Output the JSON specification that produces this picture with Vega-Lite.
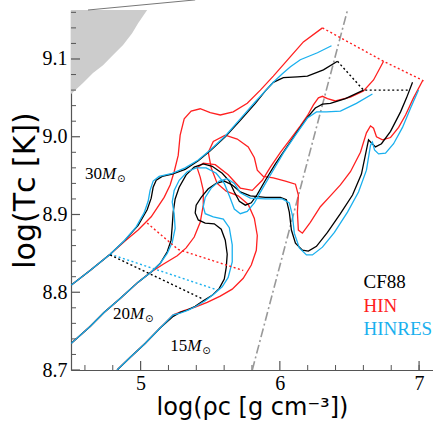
{
"$schema": "https://vega.github.io/schema/vega-lite/v6.json",
"width": 362, "height": 360,
"autosize": {"type": "none"},
"padding": {"left": 71, "top": 10, "right": 0, "bottom": 51},
"config": {"view": {"stroke": null}, "axis": {"grid": false, "labelOverlap": false}},
"datasets": {
"gray": [{"x":4.5,"y":9.055},{"x":4.507,"y":9.056},{"x":4.586,"y":9.069},{"x":4.658,"y":9.082},{"x":4.730,"y":9.092},{"x":4.802,"y":9.105},{"x":4.874,"y":9.118},{"x":4.939,"y":9.133},{"x":4.982,"y":9.146},{"x":5.047,"y":9.163}],
"topline": [{"x":4.622,"y":9.163},{"x":5.392,"y":9.176}],
"dashdot": [{"x":5.802,"y":8.70},{"x":6.486,"y":9.163}],
"xmaj": [{"x":5},{"x":6},{"x":7}],
"xmin": [{"x":4.6},{"x":4.8},{"x":5.2},{"x":5.4},{"x":5.6},{"x":5.8},{"x":6.2},{"x":6.4},{"x":6.6},{"x":6.8},{"x":7.0}],
"ymaj": [{"y":8.7},{"y":8.8},{"y":8.9},{"y":9.0},{"y":9.1}],
"ymin": [{"y":8.72},{"y":8.74},{"y":8.76},{"y":8.78},{"y":8.82},{"y":8.84},{"y":8.86},{"y":8.88},{"y":8.92},{"y":8.94},{"y":8.96},{"y":8.98},{"y":9.02},{"y":9.04},{"y":9.06},{"y":9.08},{"y":9.12},{"y":9.14},{"y":9.16}],
"tracks": [
{"t":"r30","m":"HIN","i":0,"x":4.500,"y":8.809},{"t":"r30","m":"HIN","i":1,"x":4.637,"y":8.828},{"t":"r30","m":"HIN","i":2,"x":4.781,"y":8.849},{"t":"r30","m":"HIN","i":3,"x":4.888,"y":8.866},{"t":"r30","m":"HIN","i":4,"x":4.982,"y":8.880},{"t":"r30","m":"HIN","i":5,"x":5.076,"y":8.897},{"t":"r30","m":"HIN","i":6,"x":5.169,"y":8.922},{"t":"r30","m":"HIN","i":7,"x":5.212,"y":8.938},{"t":"r30","m":"HIN","i":8,"x":5.241,"y":8.955},{"t":"r30","m":"HIN","i":9,"x":5.270,"y":8.976},{"t":"r30","m":"HIN","i":10,"x":5.284,"y":9.002},{"t":"r30","m":"HIN","i":11,"x":5.313,"y":9.023},{"t":"r30","m":"HIN","i":12,"x":5.363,"y":9.033},{"t":"r30","m":"HIN","i":13,"x":5.428,"y":9.036},{"t":"r30","m":"HIN","i":14,"x":5.500,"y":9.031},{"t":"r30","m":"HIN","i":15,"x":5.572,"y":9.028},{"t":"r30","m":"HIN","i":16,"x":5.665,"y":9.032},{"t":"r30","m":"HIN","i":17,"x":5.766,"y":9.043},{"t":"r30","m":"HIN","i":18,"x":5.860,"y":9.060},{"t":"r30","m":"HIN","i":19,"x":5.953,"y":9.078},{"t":"r30","m":"HIN","i":20,"x":6.076,"y":9.103},{"t":"r30","m":"HIN","i":21,"x":6.169,"y":9.122},{"t":"r30","m":"HIN","i":22,"x":6.306,"y":9.140},
{"t":"r20","m":"HIN","i":0,"x":4.500,"y":8.734},{"t":"r20","m":"HIN","i":1,"x":4.637,"y":8.756},{"t":"r20","m":"HIN","i":2,"x":4.737,"y":8.774},{"t":"r20","m":"HIN","i":3,"x":4.853,"y":8.792},{"t":"r20","m":"HIN","i":4,"x":4.982,"y":8.813},{"t":"r20","m":"HIN","i":5,"x":5.068,"y":8.825},{"t":"r20","m":"HIN","i":6,"x":5.162,"y":8.836},{"t":"r20","m":"HIN","i":7,"x":5.263,"y":8.847},{"t":"r20","m":"HIN","i":8,"x":5.327,"y":8.857},{"t":"r20","m":"HIN","i":9,"x":5.385,"y":8.871},{"t":"r20","m":"HIN","i":10,"x":5.428,"y":8.890},{"t":"r20","m":"HIN","i":11,"x":5.450,"y":8.912},{"t":"r20","m":"HIN","i":12,"x":5.450,"y":8.931},{"t":"r20","m":"HIN","i":13,"x":5.428,"y":8.948},{"t":"r20","m":"HIN","i":14,"x":5.406,"y":8.960},{"t":"r20","m":"HIN","i":15,"x":5.450,"y":8.966},{"t":"r20","m":"HIN","i":16,"x":5.536,"y":8.964},{"t":"r20","m":"HIN","i":17,"x":5.629,"y":8.951},{"t":"r20","m":"HIN","i":18,"x":5.716,"y":8.934},{"t":"r20","m":"HIN","i":19,"x":5.802,"y":8.931},{"t":"r20","m":"HIN","i":20,"x":5.874,"y":8.944},{"t":"r20","m":"HIN","i":21,"x":5.932,"y":8.961},{"t":"r20","m":"HIN","i":22,"x":6.004,"y":8.980},{"t":"r20","m":"HIN","i":23,"x":6.076,"y":8.997},{"t":"r20","m":"HIN","i":24,"x":6.147,"y":9.014},{"t":"r20","m":"HIN","i":25,"x":6.198,"y":9.027},{"t":"r20","m":"HIN","i":26,"x":6.241,"y":9.041},{"t":"r20","m":"HIN","i":27,"x":6.277,"y":9.050},{"t":"r20","m":"HIN","i":28,"x":6.306,"y":9.052},{"t":"r20","m":"HIN","i":29,"x":6.342,"y":9.049},{"t":"r20","m":"HIN","i":30,"x":6.399,"y":9.046},{"t":"r20","m":"HIN","i":31,"x":6.507,"y":9.051},{"t":"r20","m":"HIN","i":32,"x":6.601,"y":9.059},{"t":"r20","m":"HIN","i":33,"x":6.673,"y":9.073},{"t":"r20","m":"HIN","i":34,"x":6.745,"y":9.097},
{"t":"r15","m":"HIN","i":0,"x":4.831,"y":8.700},{"t":"r15","m":"HIN","i":1,"x":4.924,"y":8.716},{"t":"r15","m":"HIN","i":2,"x":5.032,"y":8.734},{"t":"r15","m":"HIN","i":3,"x":5.140,"y":8.754},{"t":"r15","m":"HIN","i":4,"x":5.234,"y":8.771},{"t":"r15","m":"HIN","i":5,"x":5.306,"y":8.776},{"t":"r15","m":"HIN","i":6,"x":5.392,"y":8.781},{"t":"r15","m":"HIN","i":7,"x":5.478,"y":8.787},{"t":"r15","m":"HIN","i":8,"x":5.572,"y":8.795},{"t":"r15","m":"HIN","i":9,"x":5.658,"y":8.804},{"t":"r15","m":"HIN","i":10,"x":5.737,"y":8.818},{"t":"r15","m":"HIN","i":11,"x":5.795,"y":8.835},{"t":"r15","m":"HIN","i":12,"x":5.831,"y":8.854},{"t":"r15","m":"HIN","i":13,"x":5.838,"y":8.873},{"t":"r15","m":"HIN","i":14,"x":5.817,"y":8.895},{"t":"r15","m":"HIN","i":15,"x":5.773,"y":8.913},{"t":"r15","m":"HIN","i":16,"x":5.701,"y":8.924},{"t":"r15","m":"HIN","i":17,"x":5.615,"y":8.930},{"t":"r15","m":"HIN","i":18,"x":5.550,"y":8.940},{"t":"r15","m":"HIN","i":19,"x":5.507,"y":8.960},{"t":"r15","m":"HIN","i":20,"x":5.486,"y":8.980},{"t":"r15","m":"HIN","i":21,"x":5.522,"y":8.994},{"t":"r15","m":"HIN","i":22,"x":5.608,"y":9.002},{"t":"r15","m":"HIN","i":23,"x":5.694,"y":8.997},{"t":"r15","m":"HIN","i":24,"x":5.773,"y":8.987},{"t":"r15","m":"HIN","i":25,"x":5.817,"y":8.973},{"t":"r15","m":"HIN","i":26,"x":5.838,"y":8.957},{"t":"r15","m":"HIN","i":27,"x":5.881,"y":8.949},{"t":"r15","m":"HIN","i":28,"x":5.953,"y":8.947},{"t":"r15","m":"HIN","i":29,"x":6.040,"y":8.943},{"t":"r15","m":"HIN","i":30,"x":6.112,"y":8.939},{"t":"r15","m":"HIN","i":31,"x":6.133,"y":8.925},{"t":"r15","m":"HIN","i":32,"x":6.126,"y":8.903},{"t":"r15","m":"HIN","i":33,"x":6.133,"y":8.880},{"t":"r15","m":"HIN","i":34,"x":6.162,"y":8.876},{"t":"r15","m":"HIN","i":35,"x":6.219,"y":8.890},{"t":"r15","m":"HIN","i":36,"x":6.291,"y":8.910},{"t":"r15","m":"HIN","i":37,"x":6.363,"y":8.924},{"t":"r15","m":"HIN","i":38,"x":6.435,"y":8.938},{"t":"r15","m":"HIN","i":39,"x":6.507,"y":8.955},{"t":"r15","m":"HIN","i":40,"x":6.579,"y":8.980},{"t":"r15","m":"HIN","i":41,"x":6.622,"y":9.005},{"t":"r15","m":"HIN","i":42,"x":6.651,"y":9.014},{"t":"r15","m":"HIN","i":43,"x":6.673,"y":9.011},{"t":"r15","m":"HIN","i":44,"x":6.694,"y":9.000},{"t":"r15","m":"HIN","i":45,"x":6.737,"y":8.996},{"t":"r15","m":"HIN","i":46,"x":6.795,"y":8.999},{"t":"r15","m":"HIN","i":47,"x":6.853,"y":9.012},{"t":"r15","m":"HIN","i":48,"x":6.903,"y":9.028},{"t":"r15","m":"HIN","i":49,"x":6.960,"y":9.050},{"t":"r15","m":"HIN","i":50,"x":7.025,"y":9.072},
{"t":"k30","m":"CF88","i":0,"x":4.500,"y":8.809},{"t":"k30","m":"CF88","i":1,"x":4.637,"y":8.828},{"t":"k30","m":"CF88","i":2,"x":4.781,"y":8.849},{"t":"k30","m":"CF88","i":3,"x":4.888,"y":8.867},{"t":"k30","m":"CF88","i":4,"x":4.982,"y":8.886},{"t":"k30","m":"CF88","i":5,"x":5.047,"y":8.906},{"t":"k30","m":"CF88","i":6,"x":5.076,"y":8.921},{"t":"k30","m":"CF88","i":7,"x":5.090,"y":8.935},{"t":"k30","m":"CF88","i":8,"x":5.112,"y":8.944},{"t":"k30","m":"CF88","i":9,"x":5.155,"y":8.949},{"t":"k30","m":"CF88","i":10,"x":5.227,"y":8.952},{"t":"k30","m":"CF88","i":11,"x":5.320,"y":8.958},{"t":"k30","m":"CF88","i":12,"x":5.414,"y":8.969},{"t":"k30","m":"CF88","i":13,"x":5.500,"y":8.982},{"t":"k30","m":"CF88","i":14,"x":5.608,"y":9.000},{"t":"k30","m":"CF88","i":15,"x":5.716,"y":9.021},{"t":"k30","m":"CF88","i":16,"x":5.824,"y":9.043},{"t":"k30","m":"CF88","i":17,"x":5.896,"y":9.059},{"t":"k30","m":"CF88","i":18,"x":5.953,"y":9.070},{"t":"k30","m":"CF88","i":19,"x":6.025,"y":9.076},{"t":"k30","m":"CF88","i":20,"x":6.126,"y":9.077},{"t":"k30","m":"CF88","i":21,"x":6.198,"y":9.078},{"t":"k30","m":"CF88","i":22,"x":6.313,"y":9.086},{"t":"k30","m":"CF88","i":23,"x":6.414,"y":9.097},
{"t":"k20","m":"CF88","i":0,"x":4.500,"y":8.734},{"t":"k20","m":"CF88","i":1,"x":4.637,"y":8.756},{"t":"k20","m":"CF88","i":2,"x":4.737,"y":8.774},{"t":"k20","m":"CF88","i":3,"x":4.853,"y":8.792},{"t":"k20","m":"CF88","i":4,"x":4.982,"y":8.813},{"t":"k20","m":"CF88","i":5,"x":5.076,"y":8.826},{"t":"k20","m":"CF88","i":6,"x":5.140,"y":8.837},{"t":"k20","m":"CF88","i":7,"x":5.191,"y":8.852},{"t":"k20","m":"CF88","i":8,"x":5.219,"y":8.867},{"t":"k20","m":"CF88","i":9,"x":5.227,"y":8.885},{"t":"k20","m":"CF88","i":10,"x":5.234,"y":8.903},{"t":"k20","m":"CF88","i":11,"x":5.248,"y":8.920},{"t":"k20","m":"CF88","i":12,"x":5.277,"y":8.935},{"t":"k20","m":"CF88","i":13,"x":5.327,"y":8.951},{"t":"k20","m":"CF88","i":14,"x":5.385,"y":8.961},{"t":"k20","m":"CF88","i":15,"x":5.450,"y":8.965},{"t":"k20","m":"CF88","i":16,"x":5.514,"y":8.962},{"t":"k20","m":"CF88","i":17,"x":5.586,"y":8.953},{"t":"k20","m":"CF88","i":18,"x":5.637,"y":8.943},{"t":"k20","m":"CF88","i":19,"x":5.673,"y":8.929},{"t":"k20","m":"CF88","i":20,"x":5.709,"y":8.917},{"t":"k20","m":"CF88","i":21,"x":5.752,"y":8.912},{"t":"k20","m":"CF88","i":22,"x":5.795,"y":8.915},{"t":"k20","m":"CF88","i":23,"x":5.838,"y":8.926},{"t":"k20","m":"CF88","i":24,"x":5.896,"y":8.944},{"t":"k20","m":"CF88","i":25,"x":5.968,"y":8.965},{"t":"k20","m":"CF88","i":26,"x":6.040,"y":8.984},{"t":"k20","m":"CF88","i":27,"x":6.119,"y":9.005},{"t":"k20","m":"CF88","i":28,"x":6.198,"y":9.025},{"t":"k20","m":"CF88","i":29,"x":6.255,"y":9.037},{"t":"k20","m":"CF88","i":30,"x":6.306,"y":9.042},{"t":"k20","m":"CF88","i":31,"x":6.363,"y":9.043},{"t":"k20","m":"CF88","i":32,"x":6.471,"y":9.049},{"t":"k20","m":"CF88","i":33,"x":6.601,"y":9.060},
{"t":"k15","m":"CF88","i":0,"x":4.831,"y":8.700},{"t":"k15","m":"CF88","i":1,"x":4.924,"y":8.716},{"t":"k15","m":"CF88","i":2,"x":5.032,"y":8.734},{"t":"k15","m":"CF88","i":3,"x":5.140,"y":8.754},{"t":"k15","m":"CF88","i":4,"x":5.234,"y":8.769},{"t":"k15","m":"CF88","i":5,"x":5.284,"y":8.774},{"t":"k15","m":"CF88","i":6,"x":5.335,"y":8.777},{"t":"k15","m":"CF88","i":7,"x":5.392,"y":8.782},{"t":"k15","m":"CF88","i":8,"x":5.450,"y":8.789},{"t":"k15","m":"CF88","i":9,"x":5.514,"y":8.796},{"t":"k15","m":"CF88","i":10,"x":5.565,"y":8.805},{"t":"k15","m":"CF88","i":11,"x":5.601,"y":8.817},{"t":"k15","m":"CF88","i":12,"x":5.615,"y":8.832},{"t":"k15","m":"CF88","i":13,"x":5.622,"y":8.849},{"t":"k15","m":"CF88","i":14,"x":5.608,"y":8.867},{"t":"k15","m":"CF88","i":15,"x":5.579,"y":8.881},{"t":"k15","m":"CF88","i":16,"x":5.529,"y":8.888},{"t":"k15","m":"CF88","i":17,"x":5.464,"y":8.889},{"t":"k15","m":"CF88","i":18,"x":5.414,"y":8.893},{"t":"k15","m":"CF88","i":19,"x":5.392,"y":8.902},{"t":"k15","m":"CF88","i":20,"x":5.399,"y":8.912},{"t":"k15","m":"CF88","i":21,"x":5.435,"y":8.922},{"t":"k15","m":"CF88","i":22,"x":5.486,"y":8.933},{"t":"k15","m":"CF88","i":23,"x":5.543,"y":8.940},{"t":"k15","m":"CF88","i":24,"x":5.601,"y":8.943},{"t":"k15","m":"CF88","i":25,"x":5.658,"y":8.938},{"t":"k15","m":"CF88","i":26,"x":5.716,"y":8.929},{"t":"k15","m":"CF88","i":27,"x":5.788,"y":8.924},{"t":"k15","m":"CF88","i":28,"x":5.896,"y":8.922},{"t":"k15","m":"CF88","i":29,"x":6.004,"y":8.922},{"t":"k15","m":"CF88","i":30,"x":6.047,"y":8.919},{"t":"k15","m":"CF88","i":31,"x":6.068,"y":8.903},{"t":"k15","m":"CF88","i":32,"x":6.083,"y":8.880},{"t":"k15","m":"CF88","i":33,"x":6.112,"y":8.863},{"t":"k15","m":"CF88","i":34,"x":6.162,"y":8.854},{"t":"k15","m":"CF88","i":35,"x":6.205,"y":8.853},{"t":"k15","m":"CF88","i":36,"x":6.263,"y":8.859},{"t":"k15","m":"CF88","i":37,"x":6.342,"y":8.877},{"t":"k15","m":"CF88","i":38,"x":6.435,"y":8.901},{"t":"k15","m":"CF88","i":39,"x":6.522,"y":8.925},{"t":"k15","m":"CF88","i":40,"x":6.586,"y":8.952},{"t":"k15","m":"CF88","i":41,"x":6.622,"y":8.983},{"t":"k15","m":"CF88","i":42,"x":6.637,"y":8.996},{"t":"k15","m":"CF88","i":43,"x":6.658,"y":8.992},{"t":"k15","m":"CF88","i":44,"x":6.687,"y":8.987},{"t":"k15","m":"CF88","i":45,"x":6.730,"y":8.991},{"t":"k15","m":"CF88","i":46,"x":6.795,"y":9.007},{"t":"k15","m":"CF88","i":47,"x":6.867,"y":9.032},{"t":"k15","m":"CF88","i":48,"x":6.910,"y":9.050},{"t":"k15","m":"CF88","i":49,"x":6.953,"y":9.070},
{"t":"c30","m":"HINRES","i":0,"x":4.500,"y":8.809},{"t":"c30","m":"HINRES","i":1,"x":4.637,"y":8.828},{"t":"c30","m":"HINRES","i":2,"x":4.781,"y":8.849},{"t":"c30","m":"HINRES","i":3,"x":4.881,"y":8.866},{"t":"c30","m":"HINRES","i":4,"x":4.968,"y":8.884},{"t":"c30","m":"HINRES","i":5,"x":5.025,"y":8.902},{"t":"c30","m":"HINRES","i":6,"x":5.054,"y":8.917},{"t":"c30","m":"HINRES","i":7,"x":5.068,"y":8.931},{"t":"c30","m":"HINRES","i":8,"x":5.090,"y":8.943},{"t":"c30","m":"HINRES","i":9,"x":5.133,"y":8.949},{"t":"c30","m":"HINRES","i":10,"x":5.227,"y":8.953},{"t":"c30","m":"HINRES","i":11,"x":5.320,"y":8.960},{"t":"c30","m":"HINRES","i":12,"x":5.414,"y":8.970},{"t":"c30","m":"HINRES","i":13,"x":5.500,"y":8.983},{"t":"c30","m":"HINRES","i":14,"x":5.608,"y":9.001},{"t":"c30","m":"HINRES","i":15,"x":5.716,"y":9.023},{"t":"c30","m":"HINRES","i":16,"x":5.824,"y":9.045},{"t":"c30","m":"HINRES","i":17,"x":5.896,"y":9.059},{"t":"c30","m":"HINRES","i":18,"x":5.953,"y":9.070},{"t":"c30","m":"HINRES","i":19,"x":6.018,"y":9.081},{"t":"c30","m":"HINRES","i":20,"x":6.076,"y":9.090},{"t":"c30","m":"HINRES","i":21,"x":6.147,"y":9.099},{"t":"c30","m":"HINRES","i":22,"x":6.270,"y":9.108},{"t":"c30","m":"HINRES","i":23,"x":6.371,"y":9.117},
{"t":"c20","m":"HINRES","i":0,"x":4.500,"y":8.734},{"t":"c20","m":"HINRES","i":1,"x":4.637,"y":8.756},{"t":"c20","m":"HINRES","i":2,"x":4.737,"y":8.774},{"t":"c20","m":"HINRES","i":3,"x":4.853,"y":8.792},{"t":"c20","m":"HINRES","i":4,"x":4.982,"y":8.813},{"t":"c20","m":"HINRES","i":5,"x":5.076,"y":8.826},{"t":"c20","m":"HINRES","i":6,"x":5.140,"y":8.837},{"t":"c20","m":"HINRES","i":7,"x":5.191,"y":8.850},{"t":"c20","m":"HINRES","i":8,"x":5.227,"y":8.864},{"t":"c20","m":"HINRES","i":9,"x":5.248,"y":8.882},{"t":"c20","m":"HINRES","i":10,"x":5.241,"y":8.901},{"t":"c20","m":"HINRES","i":11,"x":5.227,"y":8.916},{"t":"c20","m":"HINRES","i":12,"x":5.241,"y":8.931},{"t":"c20","m":"HINRES","i":13,"x":5.277,"y":8.944},{"t":"c20","m":"HINRES","i":14,"x":5.335,"y":8.955},{"t":"c20","m":"HINRES","i":15,"x":5.399,"y":8.960},{"t":"c20","m":"HINRES","i":16,"x":5.471,"y":8.960},{"t":"c20","m":"HINRES","i":17,"x":5.543,"y":8.953},{"t":"c20","m":"HINRES","i":18,"x":5.601,"y":8.940},{"t":"c20","m":"HINRES","i":19,"x":5.637,"y":8.924},{"t":"c20","m":"HINRES","i":20,"x":5.673,"y":8.907},{"t":"c20","m":"HINRES","i":21,"x":5.716,"y":8.901},{"t":"c20","m":"HINRES","i":22,"x":5.766,"y":8.904},{"t":"c20","m":"HINRES","i":23,"x":5.817,"y":8.915},{"t":"c20","m":"HINRES","i":24,"x":5.874,"y":8.933},{"t":"c20","m":"HINRES","i":25,"x":5.946,"y":8.955},{"t":"c20","m":"HINRES","i":26,"x":6.025,"y":8.979},{"t":"c20","m":"HINRES","i":27,"x":6.112,"y":9.002},{"t":"c20","m":"HINRES","i":28,"x":6.198,"y":9.024},{"t":"c20","m":"HINRES","i":29,"x":6.263,"y":9.032},{"t":"c20","m":"HINRES","i":30,"x":6.335,"y":9.032},{"t":"c20","m":"HINRES","i":31,"x":6.435,"y":9.033},{"t":"c20","m":"HINRES","i":32,"x":6.550,"y":9.043},{"t":"c20","m":"HINRES","i":33,"x":6.665,"y":9.055},
{"t":"c15","m":"HINRES","i":0,"x":4.831,"y":8.700},{"t":"c15","m":"HINRES","i":1,"x":4.924,"y":8.716},{"t":"c15","m":"HINRES","i":2,"x":5.032,"y":8.734},{"t":"c15","m":"HINRES","i":3,"x":5.140,"y":8.754},{"t":"c15","m":"HINRES","i":4,"x":5.234,"y":8.771},{"t":"c15","m":"HINRES","i":5,"x":5.284,"y":8.773},{"t":"c15","m":"HINRES","i":6,"x":5.342,"y":8.777},{"t":"c15","m":"HINRES","i":7,"x":5.399,"y":8.782},{"t":"c15","m":"HINRES","i":8,"x":5.464,"y":8.789},{"t":"c15","m":"HINRES","i":9,"x":5.529,"y":8.798},{"t":"c15","m":"HINRES","i":10,"x":5.586,"y":8.807},{"t":"c15","m":"HINRES","i":11,"x":5.629,"y":8.819},{"t":"c15","m":"HINRES","i":12,"x":5.658,"y":8.839},{"t":"c15","m":"HINRES","i":13,"x":5.658,"y":8.861},{"t":"c15","m":"HINRES","i":14,"x":5.637,"y":8.883},{"t":"c15","m":"HINRES","i":15,"x":5.594,"y":8.894},{"t":"c15","m":"HINRES","i":16,"x":5.522,"y":8.897},{"t":"c15","m":"HINRES","i":17,"x":5.464,"y":8.901},{"t":"c15","m":"HINRES","i":18,"x":5.450,"y":8.910},{"t":"c15","m":"HINRES","i":19,"x":5.464,"y":8.922},{"t":"c15","m":"HINRES","i":20,"x":5.507,"y":8.934},{"t":"c15","m":"HINRES","i":21,"x":5.565,"y":8.943},{"t":"c15","m":"HINRES","i":22,"x":5.622,"y":8.946},{"t":"c15","m":"HINRES","i":23,"x":5.673,"y":8.940},{"t":"c15","m":"HINRES","i":24,"x":5.716,"y":8.928},{"t":"c15","m":"HINRES","i":25,"x":5.788,"y":8.921},{"t":"c15","m":"HINRES","i":26,"x":5.896,"y":8.920},{"t":"c15","m":"HINRES","i":27,"x":6.018,"y":8.920},{"t":"c15","m":"HINRES","i":28,"x":6.068,"y":8.915},{"t":"c15","m":"HINRES","i":29,"x":6.090,"y":8.899},{"t":"c15","m":"HINRES","i":30,"x":6.104,"y":8.876},{"t":"c15","m":"HINRES","i":31,"x":6.140,"y":8.857},{"t":"c15","m":"HINRES","i":32,"x":6.191,"y":8.848},{"t":"c15","m":"HINRES","i":33,"x":6.234,"y":8.848},{"t":"c15","m":"HINRES","i":34,"x":6.306,"y":8.858},{"t":"c15","m":"HINRES","i":35,"x":6.392,"y":8.877},{"t":"c15","m":"HINRES","i":36,"x":6.486,"y":8.903},{"t":"c15","m":"HINRES","i":37,"x":6.565,"y":8.929},{"t":"c15","m":"HINRES","i":38,"x":6.622,"y":8.957},{"t":"c15","m":"HINRES","i":39,"x":6.651,"y":8.989},{"t":"c15","m":"HINRES","i":40,"x":6.665,"y":8.993},{"t":"c15","m":"HINRES","i":41,"x":6.680,"y":8.983},{"t":"c15","m":"HINRES","i":42,"x":6.709,"y":8.978},{"t":"c15","m":"HINRES","i":43,"x":6.759,"y":8.979},{"t":"c15","m":"HINRES","i":44,"x":6.817,"y":8.991},{"t":"c15","m":"HINRES","i":45,"x":6.881,"y":9.012},{"t":"c15","m":"HINRES","i":46,"x":6.939,"y":9.037},{"t":"c15","m":"HINRES","i":47,"x":6.996,"y":9.060}
],
"dots": [
{"t":"rd1","m":"HIN","i":0,"x":5.047,"y":8.889},{"t":"rd1","m":"HIN","i":1,"x":5.270,"y":8.855},{"t":"rd1","m":"HIN","i":2,"x":5.737,"y":8.828},
{"t":"cd1","m":"HINRES","i":0,"x":4.781,"y":8.849},{"t":"cd1","m":"HINRES","i":1,"x":5.550,"y":8.803},
{"t":"kd1","m":"CF88","i":0,"x":4.781,"y":8.848},{"t":"kd1","m":"CF88","i":1,"x":5.450,"y":8.791},
{"t":"rd2","m":"HIN","i":0,"x":6.306,"y":9.140},{"t":"rd2","m":"HIN","i":1,"x":6.745,"y":9.097},{"t":"rd2","m":"HIN","i":2,"x":7.032,"y":9.072},
{"t":"kd2","m":"CF88","i":0,"x":6.414,"y":9.097},{"t":"kd2","m":"CF88","i":1,"x":6.601,"y":9.060},{"t":"kd2","m":"CF88","i":2,"x":6.932,"y":9.060}
],
"legend": [{"lab":"CF88","m":"CF88","x":6.601,"y":8.805},{"lab":"HIN","m":"HIN","x":6.601,"y":8.774},{"lab":"HINRES","m":"HINRES","x":6.601,"y":8.745}],
"masses": [{"n":"30","x":4.601,"y":8.946},{"n":"20","x":4.802,"y":8.765},{"n":"15","x":5.212,"y":8.725}]
},
"layer": [
{"data": {"name": "gray"},
 "mark": {"type": "area", "color": "#cccccc", "clip": true, "orient": "vertical"},
 "encoding": {
  "x": {"field": "x", "type": "quantitative", "scale": {"domain": [4.5, 7.1], "nice": false, "zero": false},
   "axis": {"orient": "bottom", "values": [5, 6, 7], "ticks": false, "format": "d",
    "domainColor": "#555555", "domainWidth": 1.2,
    "labelFont": "Liberation Serif", "labelFontSize": 20, "labelColor": "#000000", "labelPadding": 3,
    "title": "log(ρᴄ [g cm⁻³])", "titleFont": "DejaVu Sans", "titleFontSize": 24, "titleFontWeight": "normal", "titleColor": "#000000", "titlePadding": 2}},
  "y": {"field": "y", "type": "quantitative", "scale": {"domain": [8.7, 9.163], "nice": false, "zero": false},
   "axis": {"orient": "left", "values": [8.7, 8.8, 8.9, 9.0, 9.1], "ticks": false, "format": ".1f",
    "domainColor": "#555555", "domainWidth": 1.2,
    "labelFont": "Liberation Serif", "labelFontSize": 20, "labelColor": "#000000", "labelPadding": 4,
    "title": "log(Tᴄ [K])", "titleFont": "DejaVu Sans", "titleFontSize": 30, "titleFontWeight": "normal", "titleColor": "#000000", "titlePadding": 2}},
  "y2": {"datum": 9.2}
 }},
{"data": {"name": "xmaj"}, "mark": {"type": "rule", "color": "#555555", "strokeWidth": 1.2},
 "encoding": {"x": {"field": "x", "type": "quantitative"}, "y": {"datum": 8.7}, "y2": {"datum": 8.7116}}},
{"data": {"name": "xmin"}, "mark": {"type": "rule", "color": "#555555", "strokeWidth": 1},
 "encoding": {"x": {"field": "x", "type": "quantitative"}, "y": {"datum": 8.7}, "y2": {"datum": 8.7064}}},
{"data": {"name": "ymaj"}, "mark": {"type": "rule", "color": "#555555", "strokeWidth": 1.2},
 "encoding": {"y": {"field": "y", "type": "quantitative"}, "x": {"datum": 4.5}, "x2": {"datum": 4.5647}}},
{"data": {"name": "ymin"}, "mark": {"type": "rule", "color": "#555555", "strokeWidth": 1},
 "encoding": {"y": {"field": "y", "type": "quantitative"}, "x": {"datum": 4.5}, "x2": {"datum": 4.536}}},
{"data": {"name": "topline"}, "mark": {"type": "line", "color": "#777777", "strokeWidth": 1},
 "encoding": {"x": {"field": "x", "type": "quantitative"}, "y": {"field": "y", "type": "quantitative"}}},
{"mark": {"type": "rule", "color": "#555555", "strokeWidth": 1.2}, "encoding": {"y": {"datum": 9.163}}},
{"data": {"name": "dashdot"}, "mark": {"type": "line", "color": "#999999", "strokeWidth": 1.6, "strokeDash": [9, 3, 2, 3], "clip": true},
 "encoding": {"x": {"field": "x", "type": "quantitative"}, "y": {"field": "y", "type": "quantitative"}}},
{"data": {"name": "tracks"}, "mark": {"type": "line", "strokeWidth": 1.3, "clip": true},
 "encoding": {"x": {"field": "x", "type": "quantitative"}, "y": {"field": "y", "type": "quantitative"},
  "detail": {"field": "t"}, "order": {"field": "i", "type": "quantitative"},
  "color": {"field": "m", "type": "nominal", "scale": {"domain": ["CF88", "HIN", "HINRES"], "range": ["#000000", "#ff2020", "#1ab0ee"]}, "legend": null}}},
{"data": {"name": "dots"}, "mark": {"type": "line", "strokeWidth": 1.4, "strokeDash": [2, 2.5], "clip": true},
 "encoding": {"x": {"field": "x", "type": "quantitative"}, "y": {"field": "y", "type": "quantitative"},
  "detail": {"field": "t"}, "order": {"field": "i", "type": "quantitative"},
  "color": {"field": "m", "type": "nominal", "legend": null}}},
{"data": {"name": "legend"}, "mark": {"type": "text", "align": "left", "baseline": "alphabetic", "font": "Liberation Serif", "fontSize": 19},
 "encoding": {"x": {"field": "x", "type": "quantitative"}, "y": {"field": "y", "type": "quantitative"}, "text": {"field": "lab"},
  "color": {"field": "m", "type": "nominal", "legend": null}}},
{"data": {"name": "masses"}, "mark": {"type": "text", "align": "left", "baseline": "alphabetic", "font": "Liberation Serif", "fontSize": 17, "color": "#000000"},
 "encoding": {"x": {"field": "x", "type": "quantitative"}, "y": {"field": "y", "type": "quantitative"}, "text": {"field": "n"}}},
{"data": {"name": "masses"}, "mark": {"type": "text", "align": "left", "baseline": "alphabetic", "font": "Liberation Serif", "fontSize": 17, "fontStyle": "italic", "color": "#000000", "dx": 17},
 "encoding": {"x": {"field": "x", "type": "quantitative"}, "y": {"field": "y", "type": "quantitative"}, "text": {"value": "M"}}},
{"data": {"name": "masses"}, "mark": {"type": "text", "align": "left", "baseline": "alphabetic", "font": "DejaVu Sans", "fontSize": 10, "color": "#000000", "dx": 32, "dy": 3},
 "encoding": {"x": {"field": "x", "type": "quantitative"}, "y": {"field": "y", "type": "quantitative"}, "text": {"value": "⊙"}}}
]
}
